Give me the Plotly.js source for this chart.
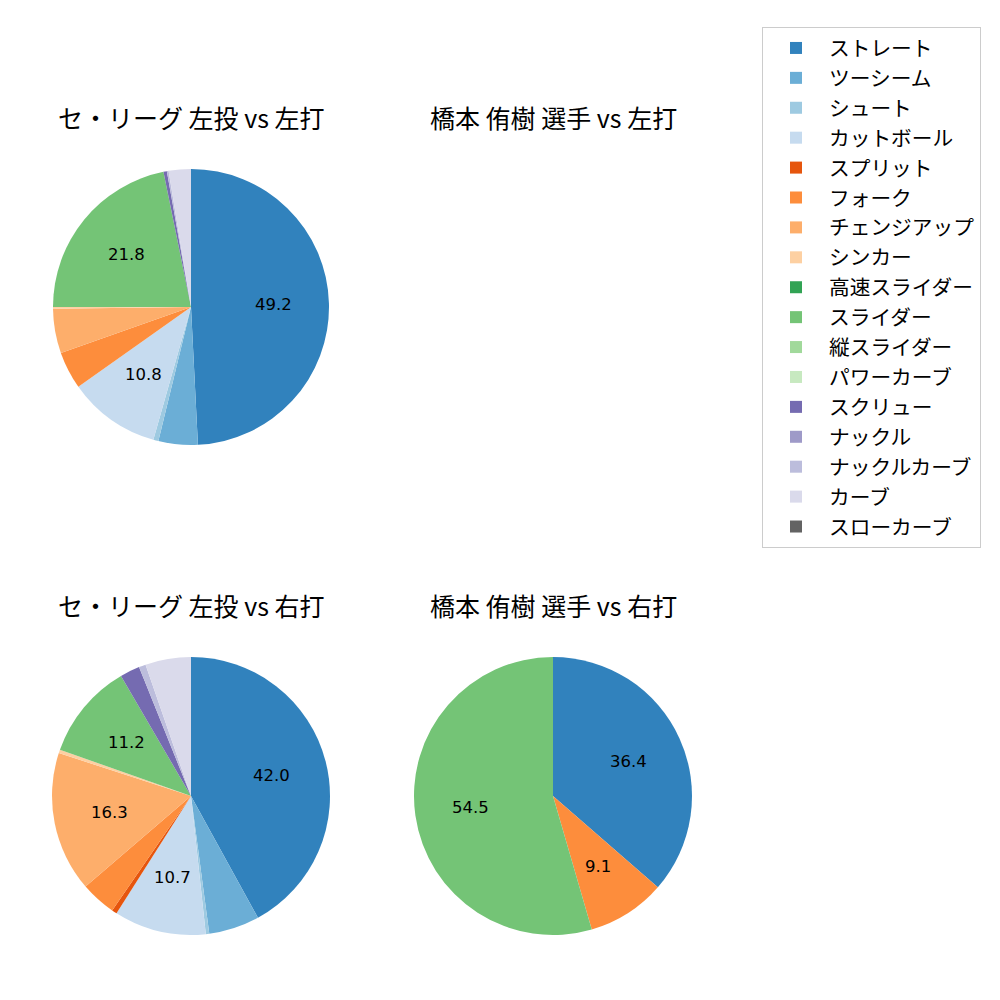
<!DOCTYPE html>
<html>
<head>
<meta charset="utf-8">
<script src="https://cdn.plot.ly/plotly-3.0.1.min.js"></script>
<style>body{margin:0;padding:0;background:#fff}#chart{width:1000px;height:1000px}</style>
</head>
<body>
<div id="chart"></div>
<script>
const pitchTypes = ["ストレート","ツーシーム","シュート","カットボール","スプリット","フォーク","チェンジアップ","シンカー","高速スライダー","スライダー","縦スライダー","パワーカーブ","スクリュー","ナックル","ナックルカーブ","カーブ","スローカーブ"];
const pitchColors = ["#3182bd","#6baed6","#9ecae1","#c6dbef","#e6550d","#fd8d3c","#fdae6b","#fdd0a2","#31a354","#74c476","#a1d99b","#c7e9c0","#756bb1","#9e9ac8","#bcbddc","#dadaeb","#636363"];

const leagueVsLeft  = [49.2,4.6,0.6,10.8,0,4.4,5.2,0.2,0,21.8,0,0,0.4,0,0.2,2.6,0];
const playerVsLeft  = [];
const leagueVsRight = [42.0,5.9,0.4,10.7,0.6,4.1,16.3,0.4,0,11.2,0,0,2.3,0,0.8,5.3,0];
const playerVsRight = [36.4,0,0,0,0,9.1,0,0,0,54.5,0,0,0,0,0,0,0];

const titles = ["セ・リーグ 左投 vs 左打","橋本 侑樹 選手 vs 左打","セ・リーグ 左投 vs 右打","橋本 侑樹 選手 vs 右打"];

const domTL = {x:[0.053,0.329], y:[0.555,0.831]};
const domBL = {x:[0.052,0.330], y:[0.065,0.343]};
const domBR = {x:[0.414,0.692], y:[0.065,0.343]};

function pie(vals, dom){
  return {
    type:"pie", values:vals, labels:pitchTypes, sort:false, direction:"clockwise", rotation:0,
    marker:{colors:pitchColors, line:{width:0}},
    textinfo:"none", hoverinfo:"label+percent", showlegend:true, domain:dom
  };
}

// percentage labels at 0.6 of the radius, at each slice's mid-angle (from the data)
function pctLabels(vals, dom){
  const total = vals.reduce((a,b)=>a+b,0);
  const cx = (dom.x[0]+dom.x[1])/2, cy = (dom.y[0]+dom.y[1])/2;
  const r = Math.min(dom.x[1]-dom.x[0], dom.y[1]-dom.y[0])/2;
  const out = []; let cum = 0;
  vals.forEach(v => {
    const pct = 100*v/total;
    const th = 2*Math.PI*(cum + v/2)/total;
    if (pct >= 8) {
      out.push({text:pct.toFixed(1), x:cx+0.6*r*Math.sin(th), y:cy+0.6*r*Math.cos(th),
        xref:"paper", yref:"paper", showarrow:false, xanchor:"center", yanchor:"middle",
        font:{family:"DejaVu Sans", size:16.5, color:"#000"}});
    }
    cum += v;
  });
  return out;
}

const data = [ pie(leagueVsLeft, domTL), pie(leagueVsRight, domBL), pie(playerVsRight, domBR) ];

const tfont = {family:"Noto Sans CJK JP", size:25, color:"#000"};
const titleAnn = [
  {text:titles[0], x:0.191, y:0.883},
  {text:titles[1], x:0.553, y:0.883},
  {text:titles[2], x:0.191, y:0.395},
  {text:titles[3], x:0.553, y:0.395}
].map(a => Object.assign(a, {xref:"paper", yref:"paper", showarrow:false, xanchor:"center", yanchor:"middle", font:tfont}));

const layout = {
  width:1000, height:1000, margin:{l:0,r:0,t:0,b:0},
  paper_bgcolor:"#fff", plot_bgcolor:"#fff",
  showlegend:true,
  legend:{x:0.762, y:0.973, xanchor:"left", yanchor:"top", bordercolor:"#cccccc", borderwidth:1,
    itemwidth:56, font:{family:"Noto Sans CJK JP", size:20.7, color:"#000"}, traceorder:"normal", bgcolor:"#fff"},
  annotations: titleAnn.concat(pctLabels(leagueVsLeft, domTL), pctLabels(leagueVsRight, domBL), pctLabels(playerVsRight, domBR))
};
Plotly.newPlot("chart", data, layout, {displayModeBar:false});
</script>
</body>
</html>
